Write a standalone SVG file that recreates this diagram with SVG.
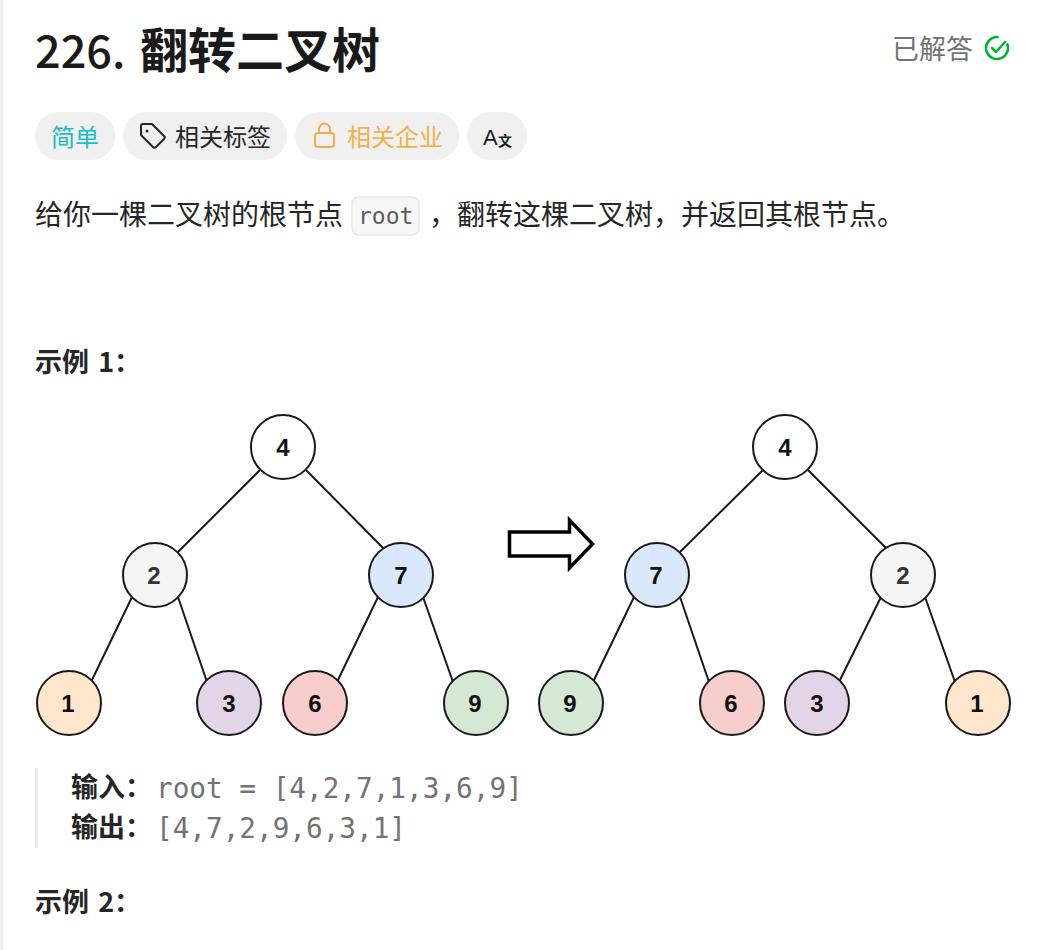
<svg xmlns="http://www.w3.org/2000/svg" width="1045" height="950" viewBox="0 0 1045 950">
<style>
.cjk{font-family:"Noto Sans CJK SC","Noto Sans",sans-serif}
.mono{font-family:"DejaVu Sans Mono","Liberation Mono",monospace}
.pill{fill:#f0f0f0}
.e{stroke:#1a1a1a;stroke-width:2;fill:none}
.n{stroke:#1a1a1a;stroke-width:2}
.l{font-family:"Liberation Sans",Arial,sans-serif;font-weight:700;font-size:24px;fill:#111;text-anchor:middle}
.h{font-size:27px;font-weight:700;fill:#262626}
.b{font-size:28px;fill:#262626}
.m{font-size:27.700px;fill:#737373}
</style>
<rect width="1045" height="950" fill="#fff"/>
<rect x="0" y="0" width="3" height="950" fill="#f0f0f0"/>
<g id="header">
<text x="35" y="68" class="cjk" font-size="45" font-weight="500" fill="#1a1a1a">226.</text>
<text x="140" y="68" class="cjk" font-size="48" font-weight="700" fill="#1a1a1a">翻转二叉树</text>
<text x="892" y="59" class="cjk" font-size="27" fill="#737373">已解答</text>
<circle cx="997" cy="48" r="11" fill="none" stroke="#00b32c" stroke-width="2.500" stroke-dasharray="58 11" transform="rotate(-25 997 48)"/>
<path d="M992 48l4 4 9-10" fill="none" stroke="#00b32c" stroke-width="2.500" stroke-linecap="round" stroke-linejoin="round"/>
</g>
<g id="tags">
<rect class="pill" x="35" y="112" width="80" height="48" rx="24"/>
<text x="51" y="146" class="cjk" font-size="24" fill="#1fbcc4">简单</text>
<rect class="pill" x="123" y="112" width="164" height="48" rx="24"/>
<path d="M141 128v7l12 12c1 1 2 1 3 0l8-8c1-1 1-2 0-3l-12-12h-9c-1 0-2 1-2 2z" fill="none" stroke="#262626" stroke-width="2" stroke-linejoin="round"/>
<circle cx="147" cy="131" r="1.500" fill="#262626"/>
<text x="175" y="146" class="cjk" font-size="24" fill="#262626">相关标签</text>
<rect class="pill" x="295" y="112" width="164" height="48" rx="24"/>
<rect x="315" y="133" width="19" height="14" rx="3" fill="none" stroke="#f0ad4e" stroke-width="2"/>
<path d="M319 133v-4a5.500 5.500 0 0 1 11 0v4" fill="none" stroke="#f0ad4e" stroke-width="2"/>
<text x="347" y="146" class="cjk" font-size="24" fill="#f0b24c">相关企业</text>
<rect class="pill" x="467" y="112" width="60" height="48" rx="24"/>
<text x="483" y="145" font-family="Liberation Sans,sans-serif" font-size="22" fill="#1a1a1a">A</text>
<text x="498" y="146" class="cjk" font-size="14" font-weight="700" fill="#1a1a1a">文</text>
</g>
<g id="description">
<text x="35" y="225" class="cjk b">给你一棵二叉树的根节点</text>
<rect x="352" y="197" width="67" height="38" rx="7" fill="#f7f7f7" stroke="#ebebeb" stroke-width="2"/>
<text x="358" y="224" class="mono" font-size="23" fill="#5c5c5c">root</text>
<text x="429" y="225" class="cjk b">，翻转这棵二叉树，并返回其根节点。</text>
<text x="35" y="372" class="cjk h" word-spacing="3">示例 1：</text>
</g>
<g id="connectors">
<path class="e" d="M260 470L178 552M306 470L387 552M132 597L91 682M178 597L207 682M378 597L337 682M423 597L453 682"/>
<path class="e" d="M763 470L680 552M808 470L890 552M634 597L593 682M680 597L709 682M881 597L839 682M925 597L955 682"/>
</g>
<g id="arrow"><path d="M509.500 532h60v-12l23 24-23 24v-12h-60z" fill="#fff" stroke="#000" stroke-width="3.500"/></g>
<g id="n4a"><circle class="n" cx="283" cy="447" r="32" fill="#fff"/><text class="l" x="283" y="456">4</text></g>
<g id="n2a"><circle class="n" cx="155" cy="575" r="32" fill="#f5f5f5"/><text class="l" x="154" y="584" style="fill:#333">2</text></g>
<g id="n7a"><circle class="n" cx="401" cy="575" r="32" fill="#dae8fc"/><text class="l" x="401" y="584">7</text></g>
<g id="n1a"><circle class="n" cx="69" cy="703" r="32" fill="#ffe6cc"/><text class="l" x="68" y="712">1</text></g>
<g id="n3a"><circle class="n" cx="229" cy="703" r="32" fill="#e1d5e7"/><text class="l" x="229" y="712">3</text></g>
<g id="n6a"><circle class="n" cx="315" cy="703" r="32" fill="#f8cecc"/><text class="l" x="315" y="712">6</text></g>
<g id="n9a"><circle class="n" cx="476" cy="703" r="32" fill="#d5e8d4"/><text class="l" x="475" y="712">9</text></g>
<g id="n4b"><circle class="n" cx="785" cy="447" r="32" fill="#fff"/><text class="l" x="785" y="456">4</text></g>
<g id="n7b"><circle class="n" cx="657" cy="575" r="32" fill="#dae8fc"/><text class="l" x="656" y="584">7</text></g>
<g id="n2b"><circle class="n" cx="903" cy="575" r="32" fill="#f5f5f5"/><text class="l" x="903" y="584" style="fill:#333">2</text></g>
<g id="n9b"><circle class="n" cx="571" cy="703" r="32" fill="#d5e8d4"/><text class="l" x="570" y="712">9</text></g>
<g id="n6b"><circle class="n" cx="732" cy="703" r="32" fill="#f8cecc"/><text class="l" x="731" y="712">6</text></g>
<g id="n3b"><circle class="n" cx="817" cy="703" r="32" fill="#e1d5e7"/><text class="l" x="817" y="712">3</text></g>
<g id="n1b"><circle class="n" cx="978" cy="703" r="32" fill="#ffe6cc"/><text class="l" x="977" y="712">1</text></g>
<g id="example">
<rect x="35" y="768" width="3" height="80" fill="#ebebeb"/>
<text x="71" y="797" class="cjk h">输入：</text>
<text x="156" y="798" class="mono m">root = [4,2,7,1,3,6,9]</text>
<text x="71" y="837" class="cjk h">输出：</text>
<text x="156" y="838" class="mono m">[4,7,2,9,6,3,1]</text>
<text x="35" y="912" class="cjk h" word-spacing="3">示例 2：</text>
</g>
</svg>
